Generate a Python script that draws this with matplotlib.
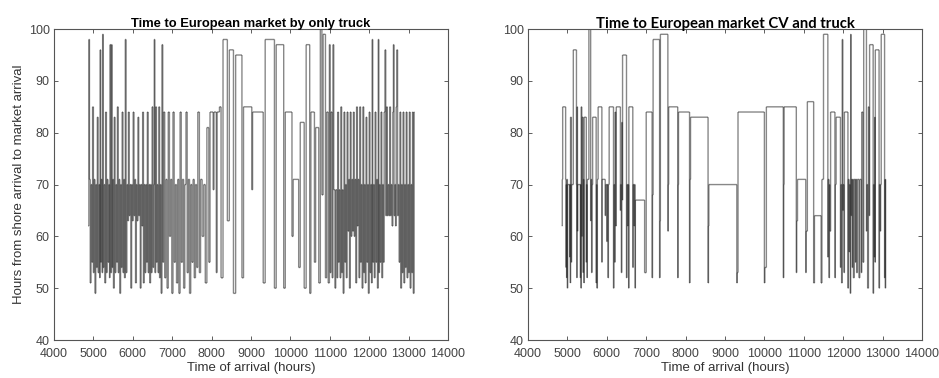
import numpy as np
import matplotlib
matplotlib.use("Agg")
import matplotlib.pyplot as plt
from matplotlib.collections import LineCollection

# step data: value holds from each time until the next one
left_t = [4870, 4885, 4900, 4920, 4940, 4960, 4980, 5000, 5020, 5040,
          5060, 5080, 5100, 5120, 5140, 5160, 5170, 5185, 5200, 5220,
          5235, 5250, 5270, 5290, 5310, 5330, 5350, 5370, 5390, 5410,
          5420, 5440, 5460, 5475, 5490, 5510, 5530, 5550, 5570, 5590,
          5610, 5630, 5650, 5670, 5690, 5710, 5730, 5750, 5770, 5790,
          5810, 5830,
          5850, 5870, 5890, 5910, 5930, 5950, 5970, 5990, 6010, 6030,
          6050, 6070, 6090, 6110, 6130, 6150, 6170, 6190, 6210, 6230,
          6250, 6270, 6290,
          6310, 6330, 6350, 6370, 6390, 6410, 6430, 6450, 6470, 6490,
          6510, 6530, 6545, 6560, 6580, 6600, 6620, 6640, 6660, 6680,
          6700, 6720, 6740, 6760, 6780,
          6810, 6840, 6870, 6900, 6930, 6960, 6990, 7020, 7050, 7080,
          7110, 7140, 7170, 7200, 7230, 7260, 7290, 7320, 7350, 7380,
          7410, 7440, 7470, 7500, 7530, 7560, 7590, 7620, 7650, 7690,
          7720, 7760, 7800, 7840, 7880, 7930,
          7960, 8040, 8060, 8120, 8140, 8200, 8240, 8290, 8400, 8450,
          8555, 8610, 8770, 8810, 9020, 9040, 9310, 9360, 9595, 9640,
          9830, 9870, 10040, 10070, 10210, 10250, 10350, 10400, 10490, 10520,
          10610, 10640, 10720, 10760, 10800, 10830, 10890,
          10920, 10960, 10990, 11010, 11030, 11060, 11080, 11100, 11130, 11150,
          11180,
          11200, 11220, 11240, 11260, 11280, 11300, 11320, 11340, 11360, 11380,
          11400, 11420, 11440, 11460, 11480, 11500, 11520, 11540, 11560, 11580,
          11600, 11620, 11640, 11660, 11680, 11700, 11720, 11740, 11760, 11780,
          11800, 11820, 11840, 11860, 11880, 11900, 11920, 11940, 11960, 11980,
          12000, 12020, 12040, 12060, 12075, 12090, 12110, 12130, 12150, 12170,
          12190, 12210, 12230, 12245, 12260, 12280, 12300, 12320, 12340, 12360,
          12380, 12400, 12420, 12440, 12460, 12480, 12500, 12520, 12540, 12560,
          12580, 12600, 12615, 12630, 12650, 12670, 12685, 12700, 12720, 12740,
          12760, 12780, 12800, 12820, 12840, 12860, 12880, 12900, 12920, 12940,
          12960, 12980, 13000, 13020, 13040, 13060, 13080, 13100, 13120, 13140,
          13150]
left_v = [62, 98, 71, 51, 70, 55, 85, 53, 71, 49,
          70, 54, 83, 53, 70, 52, 96, 55, 71, 53,
          99, 54, 70, 51, 84, 53, 71, 55, 70, 52,
          97, 53, 97, 54, 71, 50, 83, 53, 70, 55,
          85, 53, 71, 49, 70, 54, 84, 53, 71, 52,
          98, 53,
          70, 63, 84, 64, 70, 50, 70, 63, 84, 64,
          71, 51, 70, 63, 83, 64, 70, 50, 70, 62,
          84, 51, 70,
          53, 70, 55, 84, 53, 70, 51, 70, 53, 85,
          54, 70, 98, 53, 85, 55, 70, 53, 85, 52,
          70, 49, 97, 55, 84,
          52, 71, 50, 84, 60, 71, 49, 84, 55, 70,
          51, 71, 49, 84, 55, 71, 50, 70, 84, 53,
          71, 49, 70, 55, 71, 52, 70, 54, 84, 53,
          71, 60, 70, 51, 81, 55,
          84, 69, 84, 53, 84, 85, 52, 98, 63, 96,
          49, 95, 52, 85, 69, 84, 51, 98, 50, 97,
          50, 84, 60, 71, 54, 82, 50, 97, 49, 84,
          55, 81, 51, 100, 68, 99, 52,
          84, 51, 97, 53, 84, 52, 97, 69, 50, 69,
          52,
          84, 55, 69, 52, 85, 53, 69, 49, 84, 55,
          70, 52, 84, 61, 71, 50, 84, 60, 71, 61,
          84, 60, 71, 51, 85, 62, 71, 52, 85, 55,
          70, 50, 85, 53, 70, 51, 83, 55, 70, 49,
          84, 53, 70, 51, 98, 55, 70, 52, 84, 55,
          71, 50, 98, 53, 70, 55, 84, 52, 70, 55,
          84, 96, 64, 85, 64, 70, 64, 85, 64, 70,
          62, 84, 97, 64, 70, 62, 85, 96, 64, 70,
          55, 84, 50, 70, 53, 84, 51, 70, 54, 84,
          52, 70, 53, 84, 50, 70, 53, 84, 49, 84,
          84]

right_t = [4860, 4870, 4880, 4955, 4965, 4970, 4980, 4985, 5000, 5005,
           5060, 5065, 5075, 5080, 5100, 5105, 5150, 5230, 5240, 5245,
           5255, 5260, 5330, 5335, 5345, 5350, 5365, 5375, 5400, 5405,
           5420, 5425, 5480, 5485, 5500, 5505, 5545, 5590, 5600, 5615,
           5625, 5640, 5730, 5740, 5750, 5760, 5780, 5875, 5880, 5960,
           5970, 6000, 6010, 6030, 6040, 6060, 6170, 6180, 6200, 6210,
           6225, 6240, 6345, 6350, 6370, 6380, 6395, 6400, 6500, 6510,
           6530, 6540, 6555, 6560, 6660, 6670, 6690, 6700, 6720, 6725,
           6960, 7000, 7150, 7160, 7175, 7340, 7350, 7360, 7550, 7560,
           7570, 7800, 7810, 7820, 8100, 8110, 8125, 8570, 8580, 8590,
           9300, 9310, 9330, 10000, 10010, 10050, 10480, 10490, 10500, 10810,
           10820, 10840, 11050, 11060, 11090, 11250, 11270, 11440, 11460, 11500,
           11610, 11620, 11640, 11650, 11660, 11680, 11790, 11800, 11820, 11930,
           11940, 11960, 11975, 11990, 12000, 12020, 12030, 12120, 12130, 12150,
           12160, 12180, 12190, 12200, 12210, 12230, 12240, 12260, 12280, 12310,
           12320, 12340, 12360, 12400, 12420, 12460, 12470, 12500, 12520, 12590,
           12600, 12620, 12640, 12660, 12670, 12760, 12770, 12790, 12800, 12810,
           12815, 12910, 12920, 12940, 12950, 12965, 13050, 13060, 13070, 13075]
right_v = [62, 71, 85, 71, 54, 70, 52, 71, 50, 70,
           56, 70, 51, 83, 55, 70, 96, 70, 52, 85,
           61, 70, 52, 70, 50, 85, 60, 83, 53, 71,
           51, 83, 55, 70, 52, 71, 100, 63, 71, 53,
           70, 83, 51, 70, 50, 71, 85, 55, 71, 64,
           70, 59, 70, 52, 70, 85, 50, 70, 55, 84,
           62, 85, 65, 70, 53, 82, 67, 95, 52, 70,
           62, 70, 50, 85, 54, 70, 62, 70, 50, 67,
           53, 84, 52, 68, 98, 52, 63, 99, 61, 70,
           85, 52, 70, 84, 51, 71, 83, 51, 62, 70,
           51, 53, 84, 51, 54, 85, 52, 70, 85, 53,
           63, 71, 53, 61, 86, 51, 64, 51, 71, 99,
           56, 71, 52, 70, 61, 84, 52, 70, 83, 54,
           70, 51, 98, 65, 70, 53, 84, 50, 71, 57,
           70, 49, 99, 64, 71, 54, 71, 52, 71, 55,
           71, 53, 71, 52, 71, 53, 84, 55, 100, 61,
           70, 50, 85, 64, 97, 49, 70, 56, 83, 55,
           96, 50, 70, 61, 70, 99, 52, 71, 50, 71]

titles = ["Time to European market by only truck", "Time to European market CV and truck"]
x_ticks = [4000, 5000, 6000, 7000, 8000, 9000, 10000, 11000, 12000, 13000, 14000]
y_ticks = [40, 50, 60, 70, 80, 90, 100]


def step_segments(t, v):
    segs = []
    for i in range(len(t) - 1):
        segs.append([(t[i], v[i]), (t[i + 1], v[i])])
        segs.append([(t[i + 1], v[i]), (t[i + 1], v[i + 1])])
    return segs


plt.rcParams['font.family'] = ['Liberation Sans', 'DejaVu Sans']
fig = plt.figure(figsize=(9.39, 3.78), dpi=100)
ax1 = fig.add_axes([0.0575, 0.1005, 0.4196, 0.8225])
ax2 = fig.add_axes([0.5623, 0.1005, 0.4196, 0.8225])

for ax, t, v in [(ax1, left_t, left_v), (ax2, right_t, right_v)]:
    lc = LineCollection(step_segments(t, v), colors=[(0.15, 0.15, 0.15, 0.55)],
                        linewidths=1.0, snap=False, antialiased=True)
    ax.add_collection(lc)
    ax.set_xlim(4000, 14000)
    ax.set_ylim(40, 100)
    ax.set_xticks(x_ticks)
    ax.set_yticks(y_ticks)
    ax.tick_params(direction='in', top=True, right=True, length=3, width=0.6,
                   colors='#444444', labelsize=9)
    ax.tick_params(axis='x', pad=6)
    ax.tick_params(axis='y', pad=3)
    for s in ax.spines.values():
        s.set_color('#555555')
        s.set_linewidth(0.8)
    ax.set_xlabel("Time of arrival (hours)", fontsize=9.5, color='#333333', labelpad=1)

ax1.set_title(titles[0], fontsize=9.4, fontweight='bold', pad=1.5)
ax2.set_title(titles[1], fontsize=10.7, fontweight='bold', family=['Lato', 'DejaVu Sans'], pad=1)
ax1.set_ylabel("Hours from shore arrival to market arrival", fontsize=9.5, color='#333333', labelpad=3)

fig.savefig("out.png", dpi=100)
